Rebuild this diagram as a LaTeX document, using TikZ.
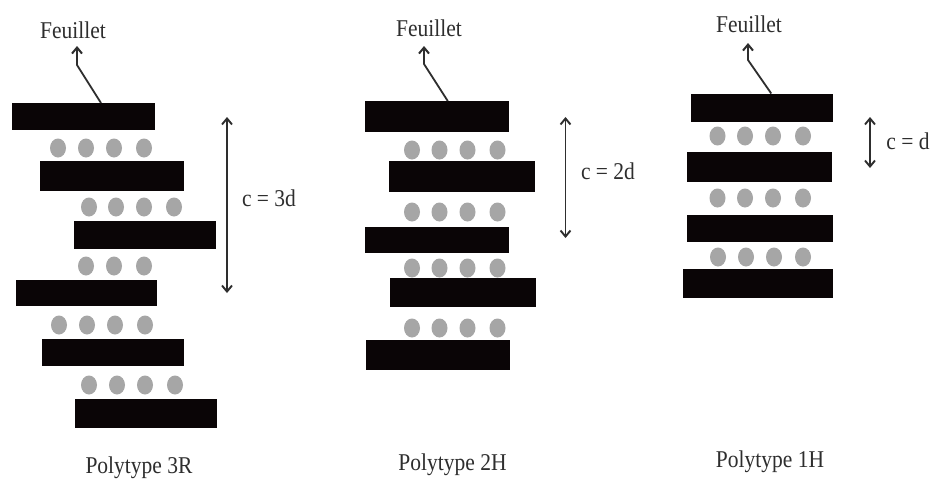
\documentclass[tikz,border=0pt]{standalone}
\usepackage{graphicx}
\usepackage{fontspec}
\setmainfont{Liberation Serif}
\usetikzlibrary{arrows.meta,shapes.geometric}
\definecolor{barcol}{HTML}{0A0506}
\definecolor{dotcol}{HTML}{A6A6A6}
\definecolor{inkcol}{HTML}{2E2E2E}
\tikzset{
  x=1pt,y=-1pt,
  barbox/.style={fill=barcol,draw=none,inner sep=0pt,outer sep=0pt,rectangle},
  dotnode/.style={ellipse,fill=dotcol,draw=none,inner sep=0pt,minimum width=16pt,minimum height=19pt},
  lab/.style={text=inkcol,inner sep=0pt,font=\fontsize{21.5}{24}\selectfont},
  leader/.style={draw=inkcol,line width=1.8pt,-{Straight Barb[length=6pt,width=10pt,line width=2pt]}},
  dim/.style={draw=inkcol,line width=1.6pt,{Straight Barb[length=6pt,width=10pt,line width=1.9pt]}-{Straight Barb[length=6pt,width=10pt,line width=1.9pt]}}
}
\newcommand{\layer}[5]{%
  \pgfmathsetmacro{\cxx}{(#2+#4)/2}\pgfmathsetmacro{\cyy}{(#3+#5)/2}%
  \pgfmathsetmacro{\ww}{#4-#2}\pgfmathsetmacro{\hh}{#5-#3}%
  \node[barbox,minimum width=\ww pt,minimum height=\hh pt] (#1) at (\cxx,\cyy) {};}
\newcommand{\dotrow}[3]{%
  \foreach \xx [count=\ii] in {#3} \node[dotnode] (#1-\ii) at (\xx,#2) {};}
\newcommand{\tall}[1]{\scalebox{1}[1.12]{#1}}
\begin{document}
\begin{tikzpicture}
\useasboundingbox[fill=white] (0,0) rectangle (932,479);
% 3R
\layer{a1}{12}{103}{155}{130}
\layer{a2}{40}{161}{184}{191}
\layer{a3}{73.5}{221}{216}{249}
\layer{a4}{15.5}{280}{157}{306}
\layer{a5}{42}{339}{184}{366}
\layer{a6}{74.5}{398.5}{217}{428}
\dotrow{ad1}{148}{58,86,114,144}
\dotrow{ad2}{207}{89,116,144,174}
\dotrow{ad3}{266}{86,114,144}
\dotrow{ad4}{325}{59,87,115,145}
\dotrow{ad5}{385}{89,117,145,175}
\node[lab] (af) at (73,30) {\tall{Feuillet}};
\coordinate (ae) at (77,65);
\coordinate (at) at (77,46);
\draw[leader] ([xshift=17.5pt]a1.north) -- (ae) -- (at);
\coordinate (au) at (227,117);
\coordinate (ad) at (227,293);
\draw[dim] (au) -- (ad);
\node[lab] (ac) at (269,198) {\tall{c = 3d}};
\node[lab] (ap) at (139,468) {\tall{Polytype 3R}};
% 2H
\layer{b1}{364.5}{101}{509}{132}
\layer{b2}{388.5}{161}{535}{192}
\layer{b3}{365}{227}{509}{253}
\layer{b4}{389.5}{278}{535.5}{307}
\layer{b5}{366}{340}{510}{369.5}
\dotrow{bd1}{150}{412,439.5,467.5,497.5}
\dotrow{bd2}{212}{412,439.5,467.5,497.5}
\dotrow{bd3}{268}{412,439.5,467.5,497.5}
\dotrow{bd4}{328}{412,439.5,467.5,497.5}
\node[lab] (bf) at (429,28) {\tall{Feuillet}};
\coordinate (be) at (424,64);
\coordinate (bt) at (424,46);
\draw[leader] ([xshift=11pt]b1.north) -- (be) -- (bt);
\coordinate (bu) at (565.5,117);
\coordinate (bd) at (565.5,238);
\draw[dim] (bu) -- (bd);
\node[lab] (bc) at (608,171) {\tall{c = 2d}};
\node[lab] (bp) at (452.5,465) {\tall{Polytype 2H}};
% 1H
\layer{c1}{690.5}{93.5}{833}{122}
\layer{c2}{686.5}{152}{832}{181.5}
\layer{c3}{686.5}{214.5}{832.5}{241.5}
\layer{c4}{683}{269}{833}{298}
\dotrow{cd1}{136}{717.5,745,773,803}
\dotrow{cd2}{198}{717.5,745,773,803}
\dotrow{cd3}{257}{718,746,774,803}
\node[lab] (cf) at (749,24) {\tall{Feuillet}};
\coordinate (ce) at (748,60);
\coordinate (ct) at (748,43);
\draw[leader] ([xshift=9.5pt]c1.north) -- (ce) -- (ct);
\coordinate (cu) at (870,117);
\coordinate (cd) at (870,168);
\draw[dim] (cu) -- (cd);
\node[lab] (cc) at (908,141) {\tall{c = d}};
\node[lab] (cp) at (770,462) {\tall{Polytype 1H}};
\end{tikzpicture}
\end{document}
